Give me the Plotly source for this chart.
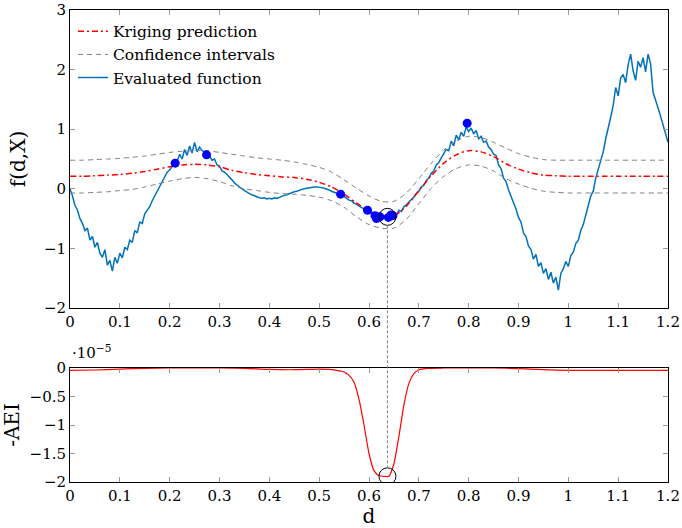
import plotly.graph_objects as go

# ---------------- data ----------------
# evaluated (noisy) objective, sampled every 0.005 on [0, 1.2]
d_step = 0.005
f_eval = [
    0.00, -0.12, -0.28, -0.36, -0.50, -0.58, -0.70, -0.66, -0.86, -0.80,
    -0.98, -0.90, -1.08, -1.15, -1.02, -1.28, -1.20, -1.38, -1.15, -1.25,
    -1.08, -1.16, -0.98, -1.02, -0.86, -0.90, -0.70, -0.74, -0.56, -0.58,
    -0.42, -0.36, -0.30, -0.20, -0.12, -0.04, 0.04, 0.14, 0.20, 0.28,
    0.32, 0.38, 0.43, 0.46, 0.58, 0.50, 0.66, 0.56, 0.72, 0.60,
    0.78, 0.62, 0.70, 0.64, 0.62, 0.57, 0.55, 0.48, 0.50, 0.40,
    0.38, 0.30, 0.28, 0.24, 0.20, 0.15, 0.10, 0.06, 0.03, 0.00,
    -0.03, -0.06, -0.08, -0.10, -0.12, -0.14, -0.15, -0.16, -0.15, -0.17,
    -0.16, -0.17, -0.15, -0.16, -0.14, -0.13, -0.11, -0.10, -0.08, -0.07,
    -0.05, -0.04, -0.02, -0.01, 0.00, 0.01, 0.02, 0.03, 0.03, 0.03,
    0.03, 0.02, 0.01, 0.00, -0.02, -0.04, -0.06, -0.07, -0.09, -0.10,
    -0.13, -0.15, -0.19, -0.20, -0.24, -0.26, -0.29, -0.31, -0.34, -0.35,
    -0.38, -0.41, -0.42, -0.46, -0.45, -0.49, -0.46, -0.48, -0.44, -0.47,
    -0.41, -0.44, -0.36, -0.38, -0.30, -0.27, -0.22, -0.18, -0.14, -0.08,
    -0.04, 0.03, 0.06, 0.14, 0.18, 0.26, 0.30, 0.40, 0.44, 0.52,
    0.58, 0.66, 0.64, 0.80, 0.72, 0.90, 0.82, 0.95, 0.88, 1.04,
    0.96, 1.02, 0.92, 0.98, 0.84, 0.88, 0.78, 0.80, 0.70, 0.66,
    0.58, 0.56, 0.40, 0.34, 0.18, 0.12, -0.02, -0.12, -0.24, -0.34,
    -0.48, -0.56, -0.74, -0.80, -0.96, -1.02, -1.18, -1.10, -1.30, -1.24,
    -1.42, -1.34, -1.52, -1.40, -1.58, -1.48, -1.70, -1.42, -1.34, -1.22,
    -1.30, -1.12, -1.06, -0.92, -0.86, -0.70, -0.60, -0.42, -0.28, -0.12,
    -0.04, 0.18, 0.32, 0.50, 0.62, 0.84, 1.00, 1.20, 1.40, 1.70,
    1.56, 1.86, 1.92, 1.78, 2.08, 2.26, 1.98, 1.82, 2.14, 2.04,
    2.20, 1.96, 2.26, 2.10, 1.62, 1.50, 1.36, 1.22, 1.06, 0.92,
    0.78,
]
d_eval = [round(i * d_step, 4) for i in range(len(f_eval))]

# kriging model on a 0.025 grid
d_krig = [round(i * 0.025, 4) for i in range(49)]
pred = [
    0.21, 0.21, 0.22, 0.23, 0.24, 0.26, 0.29, 0.33, 0.37, 0.40,
    0.41, 0.40, 0.37, 0.31, 0.27, 0.24, 0.22, 0.20, 0.19, 0.16,
    0.11, 0.03, -0.09, -0.24, -0.37, -0.45, -0.45, -0.29, -0.03, 0.22,
    0.43, 0.57, 0.64, 0.62, 0.54, 0.42, 0.33, 0.27, 0.23, 0.22,
    0.21, 0.21, 0.21, 0.21, 0.21, 0.21, 0.21, 0.21, 0.21,
]
upper = [
    0.48, 0.48, 0.49, 0.50, 0.51, 0.53, 0.55, 0.58, 0.61, 0.63,
    0.64, 0.64, 0.61, 0.58, 0.55, 0.52, 0.50, 0.48, 0.45, 0.41,
    0.36, 0.28, 0.15, 0.01, -0.12, -0.21, -0.21, -0.07, 0.17, 0.43,
    0.65, 0.80, 0.88, 0.86, 0.78, 0.68, 0.59, 0.53, 0.49, 0.48,
    0.48, 0.48, 0.48, 0.48, 0.48, 0.48, 0.48, 0.48, 0.48,
]
lower = [
    -0.07, -0.07, -0.06, -0.05, -0.03, -0.01, 0.03, 0.08, 0.13, 0.17,
    0.19, 0.17, 0.12, 0.05, 0.00, -0.03, -0.06, -0.08, -0.09, -0.11,
    -0.14, -0.20, -0.31, -0.47, -0.60, -0.66, -0.66, -0.51, -0.25, 0.01,
    0.21, 0.34, 0.40, 0.38, 0.30, 0.17, 0.08, 0.01, -0.04, -0.06,
    -0.07, -0.07, -0.07, -0.07, -0.07, -0.07, -0.07, -0.07, -0.07,
]

# sampled design points
d_pts = [0.211, 0.274, 0.543, 0.597, 0.612, 0.615, 0.622, 0.639, 0.644, 0.648, 0.797]
f_pts = [0.43, 0.57, -0.09, -0.36, -0.45, -0.50, -0.47, -0.48, -0.44, -0.45, 1.10]

# negative augmented expected improvement
d_aei = [0.0, 0.05, 0.1, 0.15, 0.2, 0.25, 0.3, 0.35, 0.4, 0.45, 0.5, 0.52,
         0.54, 0.55, 0.56, 0.57, 0.58, 0.59, 0.6, 0.61, 0.62, 0.63, 0.64,
         0.65, 0.66, 0.67, 0.68, 0.69, 0.7, 0.72, 0.75, 0.8, 0.85, 0.9,
         0.95, 1.0, 1.05, 1.1, 1.15, 1.2]
aei = [v * 1e-5 for v in [
    -0.04, -0.035, -0.02, -0.005, 0.0, 0.0, 0.0, -0.005, -0.025, -0.03,
    -0.02, -0.025, -0.05, -0.07, -0.13, -0.25, -0.55, -1.0, -1.5, -1.8,
    -1.89, -1.9, -1.9, -1.68, -1.2, -0.65, -0.27, -0.1, -0.03, -0.005,
    0.0, 0.0, 0.0, -0.01, -0.03, -0.04, -0.04, -0.04, -0.04, -0.04,
]]

# next infill point (minimum of -AEI)
best_d = 0.637
best_f = -0.47
best_aei = -1.9e-5

x_ticks = [0, 0.1, 0.2, 0.3, 0.4, 0.5, 0.6, 0.7, 0.8, 0.9, 1.0, 1.1, 1.2]
x_ticktext = ["0", "0.1", "0.2", "0.3", "0.4", "0.5", "0.6", "0.7", "0.8", "0.9", "1", "1.1", "1.2"]
y1_ticks = [-2, -1, 0, 1, 2, 3]
y1_ticktext = ["\u22122", "\u22121", "0", "1", "2", "3"]
y2_ticks = [-2e-5, -1.5e-5, -1e-5, -0.5e-5, 0]
y2_ticktext = ["\u22122", "\u22121.5", "\u22121", "\u22120.5", "0"]

# ---------------- figure ----------------
FONT = "'DejaVu Serif', serif"
top_dom = [0.3686, 1.0]
bot_dom = [0.0, 0.2415]
y1_range = [-2, 3]
y2_range = [-2e-5, 0]

fig = go.Figure()

fig.add_trace(go.Scatter(
    x=d_eval, y=f_eval, mode="lines", name="Evaluated function",
    line=dict(color="#0072BD", width=1.5), legendrank=3,
    xaxis="x", yaxis="y"))
fig.add_trace(go.Scatter(
    x=d_krig, y=upper, mode="lines", name="Confidence intervals",
    line=dict(color="#808080", width=1, dash="5px,4px", shape="spline", smoothing=0.8),
    legendgroup="ci", legendrank=2, xaxis="x", yaxis="y"))
fig.add_trace(go.Scatter(
    x=d_krig, y=lower, mode="lines", name="Confidence intervals",
    line=dict(color="#808080", width=1, dash="5px,4px", shape="spline", smoothing=0.8),
    legendgroup="ci", showlegend=False, xaxis="x", yaxis="y"))
fig.add_trace(go.Scatter(
    x=d_krig, y=pred, mode="lines", name="Kriging prediction",
    line=dict(color="#ff0000", width=1.5, dash="6px,3px,2px,3px", shape="spline", smoothing=0.8),
    legendrank=1, xaxis="x", yaxis="y"))
fig.add_trace(go.Scatter(
    x=d_pts, y=f_pts, mode="markers", showlegend=False,
    marker=dict(color="#0000ff", size=9), xaxis="x", yaxis="y"))
fig.add_trace(go.Scatter(
    x=[best_d], y=[best_f], mode="markers", showlegend=False,
    marker=dict(symbol="circle-open", color="black", size=17, line=dict(width=1)),
    xaxis="x", yaxis="y"))

fig.add_trace(go.Scatter(
    x=d_aei, y=aei, mode="lines", showlegend=False,
    line=dict(color="#ff0000", width=1.2, shape="spline", smoothing=0.6),
    xaxis="x2", yaxis="y2"))
fig.add_trace(go.Scatter(
    x=[best_d], y=[best_aei], mode="markers", showlegend=False,
    marker=dict(symbol="circle-open", color="black", size=17, line=dict(width=1)),
    xaxis="x2", yaxis="y2"))

# dashed guide joining the two circled points
plot_h = 528 - 10 - 46
r_paper = 8.5 / plot_h
py_top = top_dom[0] + (best_f - y1_range[0]) / (y1_range[1] - y1_range[0]) * (top_dom[1] - top_dom[0]) - r_paper
py_bot = bot_dom[0] + (best_aei - y2_range[0]) / (y2_range[1] - y2_range[0]) * (bot_dom[1] - bot_dom[0]) + r_paper
fig.add_shape(type="line", xref="x", yref="paper", x0=best_d, x1=best_d,
              y0=py_top, y1=py_bot, line=dict(color="#808080", width=1, dash="3px,2px"))

axis_common = dict(
    showline=True, linecolor="black", linewidth=1, mirror="allticks",
    ticks="inside", ticklen=5, tickcolor="#999999", tickwidth=1,
    showgrid=False, zeroline=False, automargin=False,
    tickfont=dict(family=FONT, size=15, color="black"),
)

fig.update_layout(
    width=682, height=528,
    margin=dict(l=70, r=14, t=10, b=46, autoexpand=False),
    paper_bgcolor="white", plot_bgcolor="white",
    font=dict(family=FONT, color="black"),
    showlegend=True,
    legend=dict(x=0.005, y=0.99, xanchor="left", yanchor="top",
                bgcolor="rgba(255,255,255,0)", font=dict(family=FONT, size=15.5),
                tracegroupgap=0),
    xaxis=dict(domain=[0, 1], range=[0, 1.2], anchor="y",
               tickvals=x_ticks, ticktext=x_ticktext, **axis_common),
    yaxis=dict(domain=top_dom, range=y1_range, anchor="x",
               tickvals=y1_ticks, ticktext=y1_ticktext,
               title=dict(text="f(d,X)", font=dict(family=FONT, size=20), standoff=12),
               **axis_common),
    xaxis2=dict(domain=[0, 1], range=[0, 1.2], anchor="y2",
                tickvals=x_ticks, ticktext=x_ticktext,
                title=dict(text="d", font=dict(family=FONT, size=20), standoff=4),
                **axis_common),
    yaxis2=dict(domain=bot_dom, range=y2_range, anchor="x2",
                tickvals=y2_ticks, ticktext=y2_ticktext,
                title=dict(text="-AEI", font=dict(family=FONT, size=20), standoff=6),
                **axis_common),
)

fig.add_annotation(
    xref="paper", yref="paper", x=0.0, y=bot_dom[1], xanchor="left", yanchor="bottom",
    yshift=4, text="\u00b710<sup>\u22125</sup>", showarrow=False,
    font=dict(family=FONT, size=15, color="black"))

fig.write_html("out.html")
